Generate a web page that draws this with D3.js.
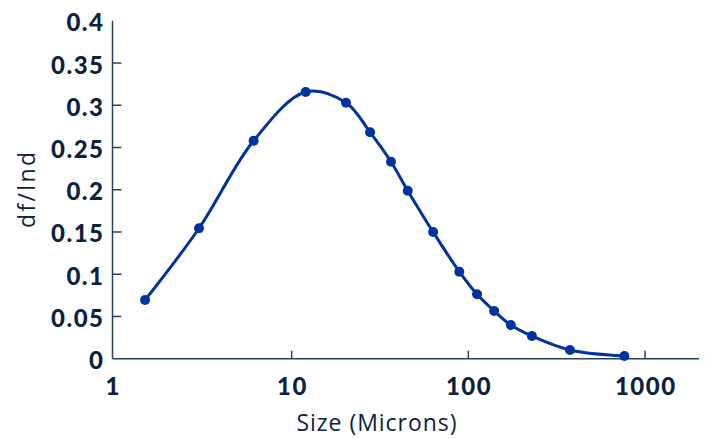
<!DOCTYPE html>
<html>
<head>
<meta charset="utf-8">
<script src="https://cdn.jsdelivr.net/npm/d3@7"></script>
<style>
  body { margin: 0; background: #fff; }
  svg { display: block; }
</style>
</head>
<body>
<div id="chart"></div>
<script>
var canvasWidth = 706;
var canvasHeight = 439;

/*Data*/
var sizes = [1.48, 2.99, 6.09, 12.0, 20.3, 27.8, 36.5, 45.4, 63.2, 88.9, 112, 140, 174, 229, 376, 764];
var dfLnd = [0.0695, 0.1544, 0.258, 0.3157, 0.303, 0.268, 0.2332, 0.1989, 0.150, 0.103, 0.0762, 0.0565, 0.0399, 0.0269, 0.0103, 0.0032];
var xTicks = [1, 10, 100, 1000];
var yTicks = [0, 0.05, 0.1, 0.15, 0.2, 0.25, 0.3, 0.35, 0.4];

var data = sizes.map(function(s, i){ return {size: s, val: dfLnd[i]}; });

var textColor = "#0d2240";
var axisColor = "#2a3f5f";
var lineColor = "#0033a0";

var svg = d3.select("#chart")
    .append("svg")
    .attr("width", canvasWidth)
    .attr("height", canvasHeight);

/*Scales*/
var xScale = d3.scaleLog().domain([1, 1000]).range([115, 645]);
var yScale = d3.scaleLinear().domain([0, 0.4]).range([358.7, 20.8]);
var xLeft = 112.5, xRight = 699;

/*Axis lines*/
svg.append("line")
    .attr("x1", xLeft).attr("x2", xRight)
    .attr("y1", yScale(0)).attr("y2", yScale(0))
    .attr("stroke", axisColor).attr("stroke-width", 1.5);
svg.append("line")
    .attr("x1", xLeft).attr("x2", xLeft)
    .attr("y1", yScale(0)).attr("y2", yScale(0.4))
    .attr("stroke", axisColor).attr("stroke-width", 1.5);

/*X ticks (inside) and labels*/
svg.append("g").selectAll("line")
    .data(xTicks.filter(function(d){ return d > 1; }))
    .join("line")
    .attr("x1", function(d){ return xScale(d); })
    .attr("x2", function(d){ return xScale(d); })
    .attr("y1", yScale(0))
    .attr("y2", yScale(0) - 8)
    .attr("stroke", axisColor).attr("stroke-width", 1.5);

svg.append("g").selectAll("text")
    .data(xTicks)
    .join("text")
    .attr("x", function(d, i){ return (i == 0 ? xLeft : xScale(d)) + 0.75; })
    .attr("y", 395)
    .attr("text-anchor", "middle")
    .attr("font-family", "Lato, sans-serif")
    .attr("font-weight", 900)
    .attr("font-size", 24)
    .attr("letter-spacing", 1.5)
    .attr("fill", textColor)
    .text(function(d){ return d; });

/*Y ticks (inside) and labels*/
svg.append("g").selectAll("line")
    .data(yTicks.filter(function(d){ return d > 0 && d < 0.4; }))
    .join("line")
    .attr("x1", xLeft)
    .attr("x2", xLeft + 9)
    .attr("y1", function(d){ return yScale(d); })
    .attr("y2", function(d){ return yScale(d); })
    .attr("stroke", axisColor).attr("stroke-width", 1.5);

svg.append("g").selectAll("text")
    .data(yTicks)
    .join("text")
    .attr("x", 104.5)
    .attr("y", function(d){ return yScale(d) + 10.5; })
    .attr("text-anchor", "end")
    .attr("font-family", "Lato, sans-serif")
    .attr("font-weight", 900)
    .attr("font-size", 24)
    .attr("letter-spacing", 1.5)
    .attr("fill", textColor)
    .text(function(d){ return d; });

/*Axis titles*/
svg.append("text")
    .attr("x", 376.5)
    .attr("y", 431)
    .attr("text-anchor", "middle")
    .attr("font-family", "'Open Sans', sans-serif")
    .attr("font-size", 23)
    .attr("textLength", 160)
    .attr("lengthAdjust", "spacing")
    .attr("fill", textColor)
    .text("Size (Microns)");

svg.append("text")
    .attr("transform", "translate(35,190) rotate(-90)")
    .attr("text-anchor", "middle")
    .attr("font-family", "'Open Sans', sans-serif")
    .attr("font-size", 23)
    .attr("textLength", 76)
    .attr("lengthAdjust", "spacing")
    .attr("fill", textColor)
    .text("df/lnd");

/*Curve*/
svg.append("path")
    .datum(data)
    .attr("fill", "none")
    .attr("stroke", lineColor)
    .attr("stroke-width", 3)
    .attr("d", d3.line()
        .curve(d3.curveCatmullRom.alpha(0.5))
        .x(function(d){ return xScale(d.size); })
        .y(function(d){ return yScale(d.val); }));

/*Points*/
svg.append("g").selectAll("circle")
    .data(data)
    .join("circle")
    .attr("cx", function(d){ return xScale(d.size); })
    .attr("cy", function(d){ return yScale(d.val); })
    .attr("r", 5)
    .attr("fill", lineColor);
</script>
</body>
</html>
